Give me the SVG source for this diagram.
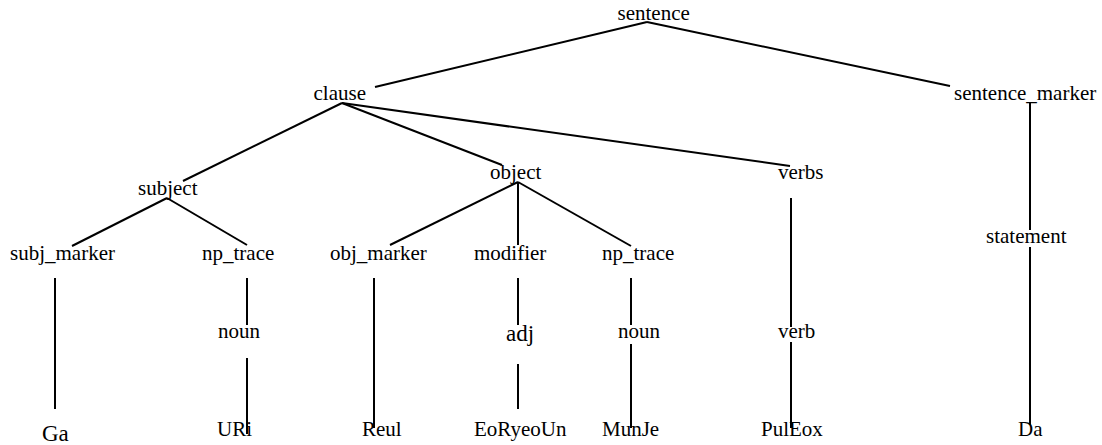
<svg xmlns="http://www.w3.org/2000/svg" width="1102" height="445" viewBox="0 0 1102 445">
<style>
text{font-family:"Liberation Serif","Times New Roman",serif;font-size:21px;fill:#000}
text.big{font-size:23px}
.edges line{stroke:#000;stroke-width:2;stroke-linecap:butt}
</style>
<rect width="1102" height="445" fill="#fff"/>
<g class="edges" id="connectors">
<line x1="647" y1="22" x2="375" y2="87"/>
<line x1="647" y1="22" x2="950" y2="86"/>
<line x1="342" y1="103" x2="183" y2="181"/>
<line x1="342" y1="103" x2="502" y2="165"/>
<line x1="342" y1="103" x2="790" y2="166"/>
<line x1="167" y1="198" x2="72" y2="246"/>
<line x1="167" y1="198" x2="247" y2="245"/>
<line x1="518" y1="182" x2="390" y2="245"/>
<line x1="518" y1="182" x2="518" y2="245"/>
<line x1="518" y1="182" x2="631" y2="246"/>
<line x1="55" y1="278" x2="55" y2="409"/>
<line x1="247" y1="278" x2="247" y2="325"/>
<line x1="247" y1="358" x2="247" y2="434"/>
<line x1="374" y1="278" x2="374" y2="428"/>
<line x1="518" y1="278" x2="518" y2="325"/>
<line x1="518" y1="364" x2="518" y2="409"/>
<line x1="631" y1="278" x2="631" y2="325"/>
<line x1="631" y1="344" x2="631" y2="428"/>
<line x1="791" y1="198" x2="791" y2="327"/>
<line x1="791" y1="342" x2="791" y2="428"/>
<line x1="1030" y1="102" x2="1030" y2="230"/>
<line x1="1030" y1="247" x2="1030" y2="425"/>
</g>
<g id="n-sentence"><text x="617.5" y="20">sentence</text></g>
<g id="n-clause"><text x="313.5" y="99.5">clause</text></g>
<g id="n-sentence_marker"><text x="954" y="100">sentence_marker</text></g>
<g id="n-subject"><text x="138" y="195">subject</text></g>
<g id="n-object"><text x="490" y="179">object</text></g>
<g id="n-verbs"><text x="778" y="179">verbs</text></g>
<g id="n-subj_marker"><text x="10" y="259.5">subj_marker</text></g>
<g id="n-np_trace1"><text x="202" y="259.5">np_trace</text></g>
<g id="n-obj_marker"><text x="330" y="259.5">obj_marker</text></g>
<g id="n-modifier"><text x="474" y="259.5">modifier</text></g>
<g id="n-np_trace2"><text x="602" y="259.5">np_trace</text></g>
<g id="n-statement"><text x="986" y="243">statement</text></g>
<g id="n-noun1"><text x="218" y="338">noun</text></g>
<g id="n-adj"><text class="big" x="506" y="341">adj</text></g>
<g id="n-noun2"><text x="618" y="338">noun</text></g>
<g id="n-verb"><text x="778" y="338">verb</text></g>
<g id="n-Ga"><text class="big" x="42" y="441">Ga</text></g>
<g id="n-URi"><text x="217" y="436">URi</text></g>
<g id="n-Reul"><text x="362" y="436">Reul</text></g>
<g id="n-EoRyeoUn"><text x="474" y="436">EoRyeoUn</text></g>
<g id="n-MunJe"><text x="602" y="436">MunJe</text></g>
<g id="n-PulEox"><text x="761" y="436">PulEox</text></g>
<g id="n-Da"><text x="1018" y="436">Da</text></g>
</svg>
